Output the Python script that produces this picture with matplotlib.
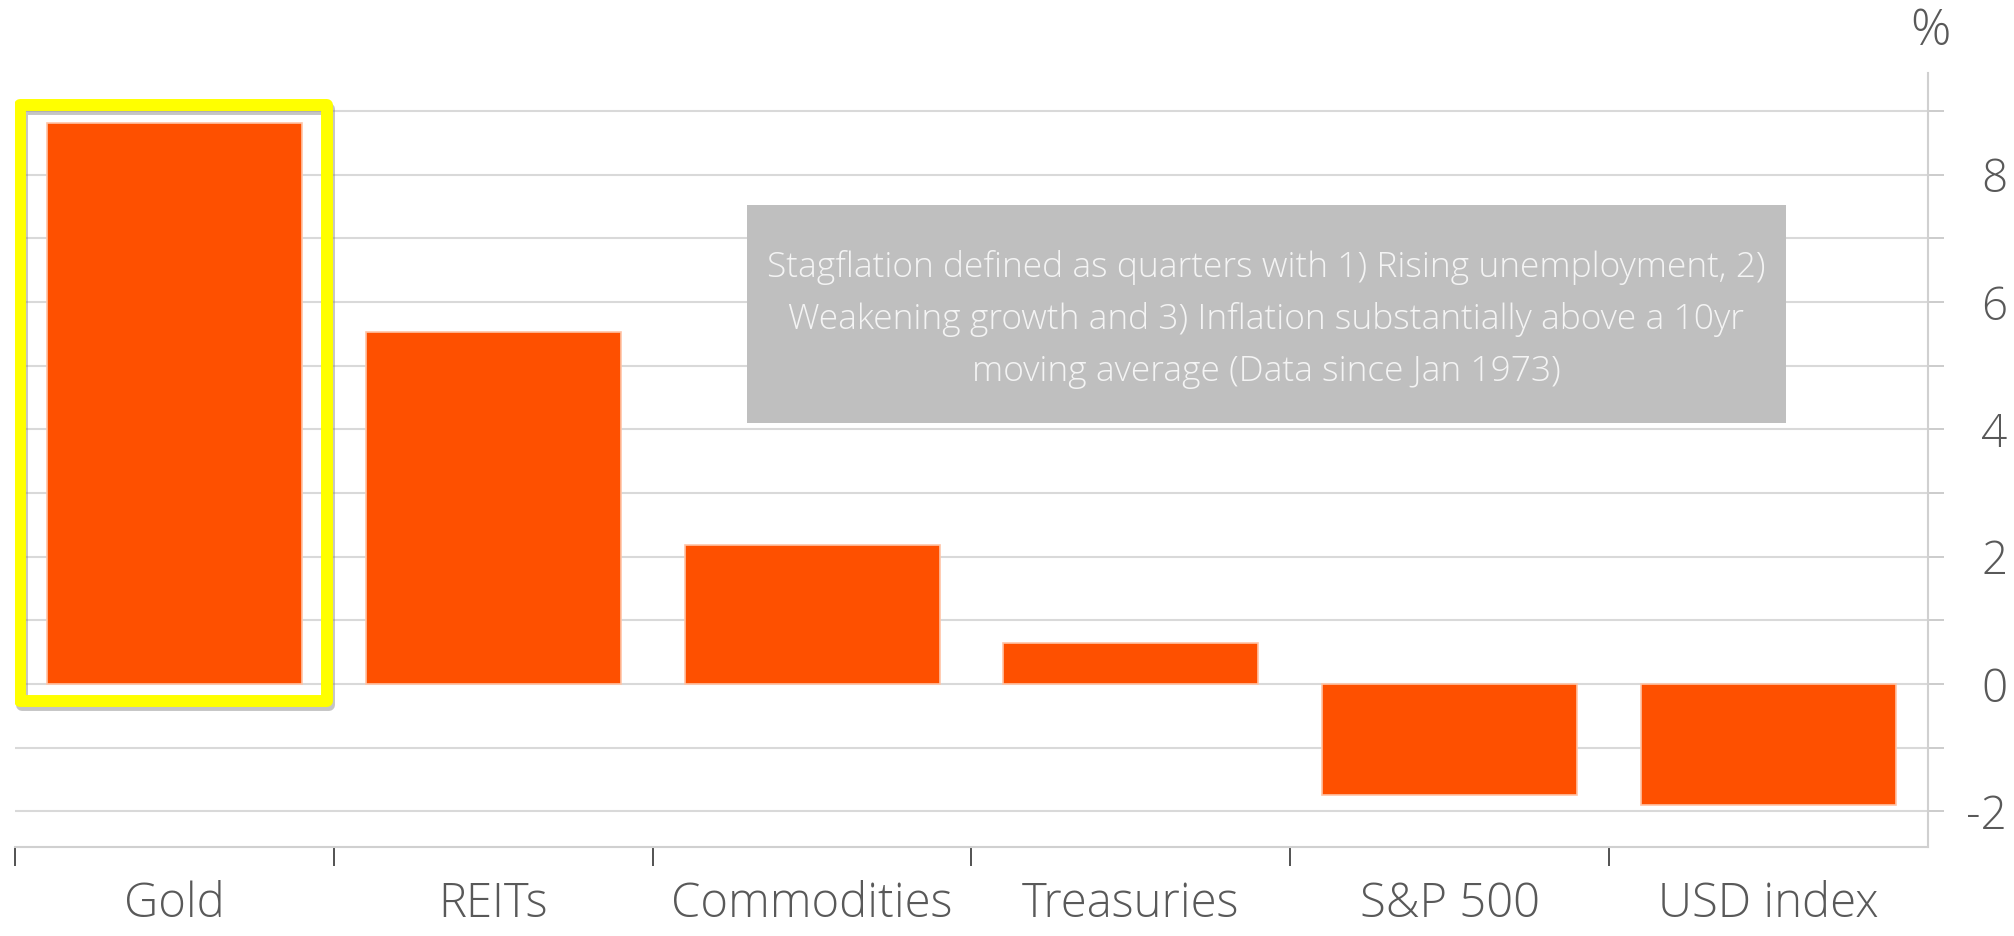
import matplotlib
matplotlib.use("Agg")
import matplotlib.pyplot as plt
from matplotlib.patches import Rectangle
from matplotlib.ticker import FixedLocator
from matplotlib.transforms import offset_copy

# Average real return during stagflation quarters, %
categories = ["Gold", "REITs", "Commodities", "Treasuries", "S&P 500", "USD index"]
returns = [8.82, 5.53, 2.18, 0.65, -1.75, -1.90]

y_ticks = list(range(-2, 10))
y_labels = [str(v) if v % 2 == 0 else "" for v in y_ticks]

note = ("Stagflation defined as quarters with 1) Rising unemployment, 2)\n"
        "Weakening growth and 3) Inflation substantially above a 10yr\n"
        "moving average (Data since Jan 1973)")

plt.rcParams["font.family"] = ["Open Sans", "DejaVu Sans"]
plt.rcParams["font.weight"] = "light"

bar_color = "#FE5000"
grid_color = "#D9D9D9"
text_color = "#595959"

fig = plt.figure(figsize=(20.15, 9.36), dpi=100)
ax = fig.add_axes([15 / 2015, 89 / 936, 1913 / 2015, 774 / 936])

x = list(range(len(categories)))
ax.bar(x, returns, width=0.8, color=bar_color, edgecolor="#FFC4A6", linewidth=1.2, zorder=3)

ax.set_xlim(-0.5, len(categories) - 0.5)
ax.set_ylim(-2.56, 9.6)

# y axis on the right, labels right-aligned
ax.yaxis.tick_right()
ax.yaxis.set_major_locator(FixedLocator(y_ticks))
ax.set_yticklabels(y_labels)
ax.tick_params(axis="y", direction="out", length=11.5, width=1.3, color="#C8C8C8",
               pad=45.5, labelsize=33, labelcolor=text_color)
for lbl in ax.get_yticklabels():
    lbl.set_horizontalalignment("right")
ax.grid(axis="y", color=grid_color, linewidth=1.5, zorder=0)

# x axis: labels centred, ticks at category edges
ax.set_xticks(x)
ax.set_xticklabels(categories)
ax.set_xticks([i - 0.5 for i in x], minor=True)
ax.tick_params(axis="x", which="major", length=0, pad=24, labelsize=34, labelcolor=text_color)
ax.tick_params(axis="x", which="minor", length=14, width=1.3, color="#444444")

for side in ["top", "left"]:
    ax.spines[side].set_visible(False)
for side in ["right", "bottom"]:
    ax.spines[side].set_color("#D0D0D0")
    ax.spines[side].set_linewidth(1.5)

# note box
ax.add_patch(Rectangle((1.795, 4.10), 3.26, 3.43, facecolor="#BFBFBF", edgecolor="none", zorder=4))
ax.text(3.425, 5.73, note, ha="center", va="center", fontsize=25.5, color="#F4F4F4",
        linespacing=1.64, zorder=5)

# yellow highlight around Gold, with a soft shadow
shadow_tr = offset_copy(ax.transData, fig=fig, x=2, y=-4, units="dots")
for tr, col, a, z in [(shadow_tr, "#808080", 0.45, 5), (ax.transData, "#FFFF00", 1, 6)]:
    ax.add_patch(Rectangle((-0.484, -0.27), 0.962, 9.36, facecolor="none", edgecolor=col,
                           linewidth=8.6, joinstyle="round", alpha=a, transform=tr, zorder=z))

fig.text(1930 / 2015, 1 - 32 / 936, "%", ha="center", va="center", fontsize=36, color=text_color)

fig.savefig("out.png", dpi=100, facecolor="white")
